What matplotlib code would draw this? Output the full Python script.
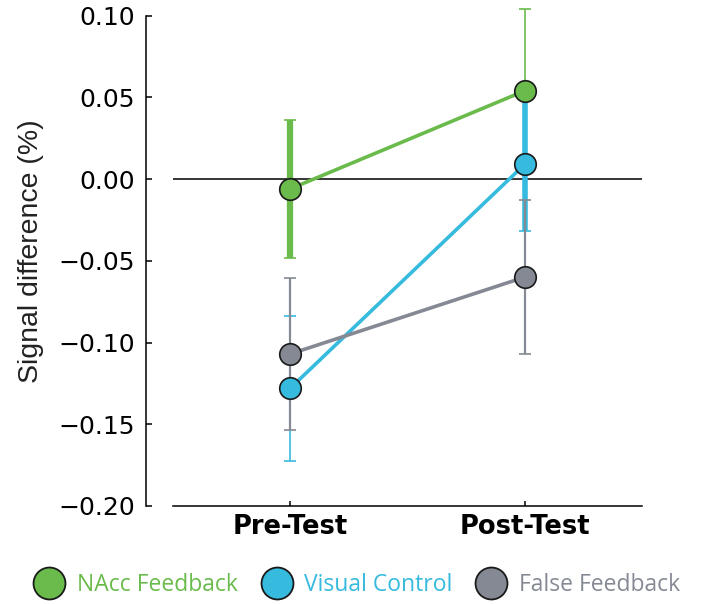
import matplotlib
matplotlib.use("Agg")
import matplotlib.pyplot as plt
from matplotlib.lines import Line2D

# data
phases = ["Pre-Test", "Post-Test"]
groups = ["NAcc Feedback", "Visual Control", "False Feedback"]

nacc_mean = [-0.006, 0.054]
nacc_err = [0.042, 0.050]
visual_mean = [-0.128, 0.009]
visual_err = [0.0445, 0.041]
false_mean = [-0.107, -0.060]
false_err = [0.0467, 0.047]

yticks = [0.10, 0.05, 0.00, -0.05, -0.10, -0.15, -0.20]

colors = ["#6abb4b", "#36bade", "#858994"]
# error bar widths per point (the original uses uneven widths)
err_widths = [[4.5, 1.2], [1.2, 4.0], [1.6, 1.6]]
edge = "#1a1a1a"


def main():
    means = [nacc_mean, visual_mean, false_mean]
    errs = [nacc_err, visual_err, false_err]
    x = list(range(len(phases)))

    fig = plt.figure(figsize=(7.02, 6.04), dpi=100)
    ax = fig.add_axes([0.2464, 0.1623, 0.668, 0.8118])

    ax.axhline(0, color="black", lw=1.1, zorder=1)

    # error bars
    for i in range(3):
        for j in x:
            ax.errorbar(x[j], means[i][j], yerr=errs[i][j], fmt="none",
                        ecolor=colors[i], elinewidth=err_widths[i][j],
                        capsize=4, capthick=1.2, clip_on=False, zorder=2 + i)

    # connecting lines and markers
    for i in range(3):
        ax.plot(x, means[i], color=colors[i], lw=2.6, zorder=6, clip_on=False)
    for i in range(3):
        ax.plot(x, means[i], "o", color=colors[i], markersize=15.5,
                markeredgecolor=edge, markeredgewidth=1.2, zorder=8,
                clip_on=False)

    ax.set_xlim(-0.5, 1.5)
    ax.set_ylim(-0.20, 0.10)
    ax.set_xticks(x)
    ax.set_xticklabels(phases, fontweight="bold")
    ax.set_yticks(yticks)
    ax.yaxis.set_major_formatter(plt.FuncFormatter(
        lambda v, p: f"{v:.2f}".replace("-", "\u2212")))
    ax.tick_params(axis="y", direction="in", length=4.5, width=1.1, pad=8,
                   labelsize=18)
    ax.tick_params(axis="x", direction="in", length=3.5, width=1.1, pad=6,
                   labelsize=18.5)

    for s in ["top", "right"]:
        ax.spines[s].set_visible(False)
    ax.spines["left"].set_position(("outward", 19.4))
    ax.spines["left"].set_linewidth(1.1)
    ax.spines["bottom"].set_linewidth(1.1)

    ax.set_ylabel("Signal difference (%)", fontsize=20.5,
                  family="Liberation Sans", color="#222222")
    ax.yaxis.set_label_coords(-0.275, 0.519)

    handles = [Line2D([], [], ls="none", marker="o", markersize=23,
                      markerfacecolor=c, markeredgecolor=edge,
                      markeredgewidth=1.3) for c in colors]
    leg = fig.legend(handles, groups, loc="center", ncol=3,
                     bbox_to_anchor=(0.508, 0.0315), frameon=False,
                     prop={"family": "Open Sans", "size": 16.5},
                     handlelength=1.4, handletextpad=0.5,
                     columnspacing=1.0, borderpad=0)
    for t, c in zip(leg.get_texts(), colors):
        t.set_color(c)

    fig.savefig("out.png", dpi=100)
    plt.close(fig)


if __name__ == "__main__":
    main()
